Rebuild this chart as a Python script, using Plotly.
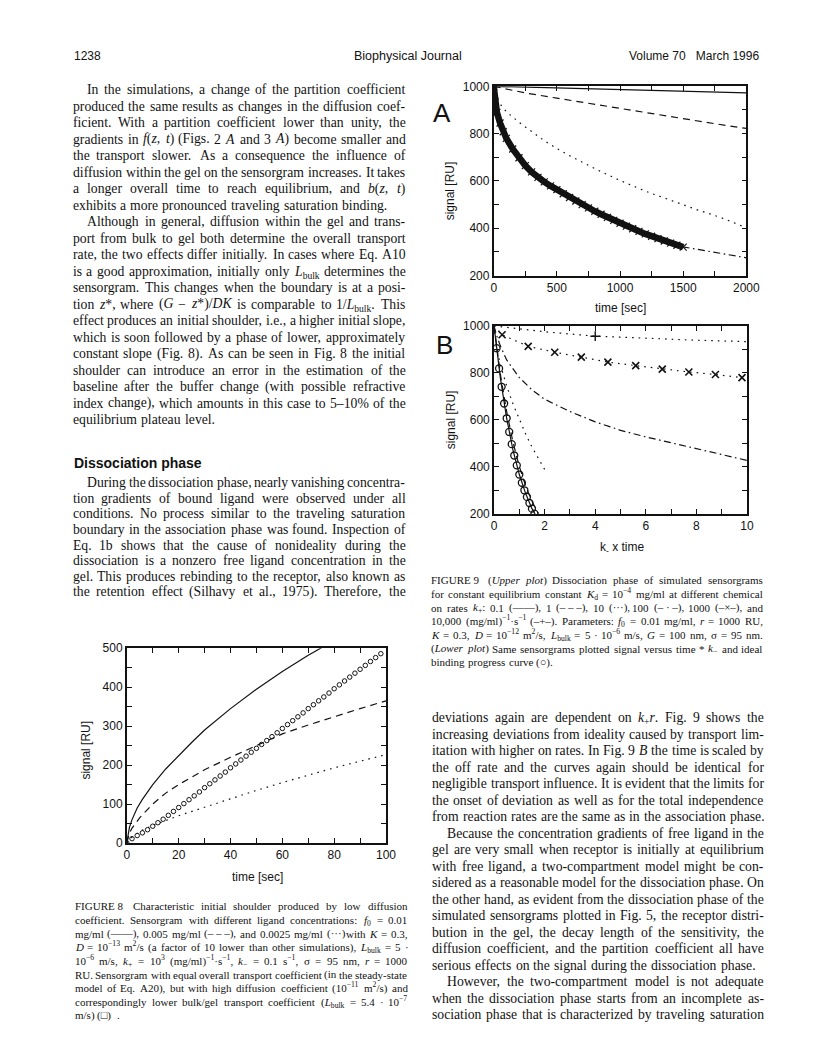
import re
import plotly.graph_objects as go

PAGE_W, PAGE_H = 816, 1064
INK = '#121212'
SANS = 'Liberation Sans, Arial, sans-serif'
SERIF = 'Liberation Serif, Times New Roman, serif'

# ---------------- data: Fig. 9A (signal vs time, dissociation) ----------------
a_xticks = [0, 500, 1000, 1500, 2000]
a_xminor = [250, 750, 1250, 1750]
sig_ticks = [200, 400, 600, 800, 1000]
sig_minor = [300, 500, 700, 900]

a_t_solid = [0, 500, 1000, 1500, 2000]
a_solid = [1000, 993, 986, 979, 972]
a_t_dash = [0, 100, 250, 500, 750, 1000, 1250, 1500, 1750, 2000]
a_dash = [1000, 988, 972, 950, 928, 906, 884, 863, 842, 822]
a_t_dot = [0, 25, 50, 100, 200, 300, 400, 500, 600, 800, 1000, 1200, 1400, 1600, 1800, 2000]
a_dot = [1000, 950, 925, 893, 848, 808, 770, 737, 707, 652, 602, 557, 517, 480, 445, 402]
a_t_dashdot = [0, 25, 50, 100, 200, 300, 500, 750, 1000, 1250, 1500, 1600, 1700, 1800, 1900, 2000]
a_dashdot = [1000, 893, 846, 781, 699, 639, 562, 487, 422, 366, 321, 312, 303, 293, 284, 275]
a_t_cross = [0, 10, 25, 50, 75, 100, 150, 200, 250, 300, 350, 400, 450, 500, 550, 600, 650,
             700, 750, 800, 850, 900, 950, 1000, 1050, 1100, 1150, 1200, 1250, 1300, 1350,
             1400, 1450, 1500]
a_cross = [1000, 935, 890, 845, 808, 780, 735, 698, 665, 638, 615, 596, 579, 563, 546, 530,
           515, 500, 486, 472, 459, 446, 433, 421, 409, 398, 387, 376, 366, 356, 346, 337,
           328, 320]

# ---------------- data: Fig. 9B (signal vs k- x time) ----------------
b_xticks = [0, 2, 4, 6, 8, 10]
b_xminor = [1, 3, 5, 7, 9]

b_x_ideal = [0.1, 0.2, 0.3, 0.4, 0.5, 0.6, 0.7, 0.8, 0.9, 1.0, 1.1, 1.2, 1.3, 1.4, 1.5, 1.6]
b_ideal = [905, 819, 741, 670, 607, 549, 497, 449, 407, 368, 333, 301, 273, 247, 223, 202]
b_x_solid = [0, 0.25, 0.5, 0.75, 1.0, 1.25, 1.5, 1.62]
b_solid = [1000, 779, 607, 472, 368, 287, 223, 200]
b_x_dash = [0, 0.25, 0.5, 0.75, 1.0, 1.25, 1.5, 1.75]
b_dash = [1000, 795, 635, 505, 402, 320, 254, 202]
b_x_dot = [0, 0.1, 0.25, 0.5, 0.75, 1.0, 1.25, 1.5, 1.75, 2.0]
b_dot = [1000, 905, 835, 745, 668, 600, 540, 485, 435, 390]
b_x_dashdot = [0, 0.1, 0.25, 0.5, 1, 1.5, 2, 3, 4, 5, 6, 7, 8, 9, 10]
b_dashdot = [1000, 960, 915, 855, 780, 728, 688, 636, 592, 556, 528, 503, 481, 455, 428]
b_x_cross = [0, 0.32, 1.35, 2.4, 3.45, 4.5, 5.6, 6.65, 7.7, 8.75, 9.8]
b_cross = [1000, 962, 913, 888, 867, 846, 831, 816, 804, 793, 780]
b_x_plus = [0, 2, 4, 6, 8, 10]
b_plus = [1000, 975, 956, 946, 939, 933]
b_x_plus_mark = [4.0]
b_plus_mark = [956]

# ---------------- data: Fig. 8 (initial shoulder) ----------------
f8_xticks = [0, 20, 40, 60, 80, 100]
f8_xminor = [10, 30, 50, 70, 90]
f8_yticks = [0, 100, 200, 300, 400, 500]
f8_yminor = [50, 150, 250, 350, 450]

f8_t_solid = [0, 1, 2, 4, 6, 10, 15, 20, 25, 30, 40, 50, 60, 70, 75, 80]
f8_solid = [0, 40, 60, 90, 112, 150, 190, 225, 258, 290, 345, 395, 440, 482, 500, 520]
f8_t_dash = [0, 1, 2, 5, 10, 15, 20, 30, 40, 50, 60, 70, 80, 90, 100]
f8_dash = [0, 25, 38, 65, 100, 128, 150, 188, 220, 250, 280, 303, 325, 345, 365]
f8_t_dot = [0, 2, 5, 10, 20, 30, 40, 50, 60, 70, 80, 90, 100]
f8_dot = [0, 15, 30, 45, 70, 92, 113, 135, 155, 175, 193, 210, 227]
f8_t_circ = [0, 2, 4, 6, 8, 10, 12, 14, 16, 18, 20, 22, 24, 26, 28, 30, 32, 34, 36, 38, 40,
             42, 44, 46, 48, 50, 52, 54, 56, 58, 60, 62, 64, 66, 68, 70, 72, 74, 76, 78, 80,
             82, 84, 86, 88, 90, 92, 94, 96, 98]
f8_circ = [0, 11, 19, 26, 34, 43, 52, 61, 71, 81, 91, 101, 111, 121, 131, 142, 152, 162, 172,
           182, 193, 203, 213, 223, 233, 243, 253, 263, 273, 283, 294, 304, 314, 324, 334, 345,
           355, 365, 375, 385, 396, 406, 416, 426, 436, 446, 456, 466, 476, 486]

# ---------------- page text ----------------
left_p1 = [
    "In the simulations, a change of the partition coefficient",
    "produced the same results as changes in the diffusion coef-",
    "ficient. With a partition coefficient lower than unity, the",
    "gradients in <i>f</i>(<i>z,</i> <i>t</i>) (Figs. 2 <i>A</i> and 3 <i>A</i>) become smaller and",
    "the transport slower. As a consequence the influence of",
    "diffusion within the gel on the sensorgram increases. It takes",
    "a longer overall time to reach equilibrium, and <i>b</i>(<i>z,</i> <i>t</i>)",
    "exhibits a more pronounced traveling saturation binding.",
    "Although in general, diffusion within the gel and trans-",
    "port from bulk to gel both determine the overall transport",
    "rate, the two effects differ initially. In cases where Eq. A10",
    "is a good approximation, initially only <i>L</i><sub>bulk</sub> determines the",
    "sensorgram. This changes when the boundary is at a posi-",
    "tion <i>z</i>*, where (<i>G</i> − <i>z</i>*)/<i>DK</i> is comparable to 1/<i>L</i><sub>bulk</sub>. This",
    "effect produces an initial shoulder, i.e., a higher initial slope,",
    "which is soon followed by a phase of lower, approximately",
    "constant slope (Fig. 8). As can be seen in Fig. 8 the initial",
    "shoulder can introduce an error in the estimation of the",
    "baseline after the buffer change (with possible refractive",
    "index change), which amounts in this case to 5–10% of the",
    "equilibrium plateau level.",
]
left_p1_indent = {0, 8}
left_p1_last = {7, 20}

left_p2 = [
    "During the dissociation phase, nearly vanishing concentra-",
    "tion gradients of bound ligand were observed under all",
    "conditions. No process similar to the traveling saturation",
    "boundary in the association phase was found. Inspection of",
    "Eq. 1b shows that the cause of nonideality during the",
    "dissociation is a nonzero free ligand concentration in the",
    "gel. This produces rebinding to the receptor, also known as",
    "the retention effect (Silhavy et al., 1975). Therefore, the",
]

cap8 = [
    "FIGURE\u00a08\u00a0 Characteristic initial shoulder produced by low diffusion",
    "coefficient. Sensorgram with different ligand concentrations: <i>f</i><sub>0</sub> = 0.01",
    "mg/ml (——), 0.005 mg/ml (–\u00a0–\u00a0–), and 0.0025 mg/ml (···) with <i>K</i> = 0.3,",
    "<i>D</i> = 10<sup>−13</sup> m<sup>2</sup>/s (a factor of 10 lower than other simulations), <i>L</i><sub>bulk</sub> = 5 ·",
    "10<sup>−6</sup> m/s, <i>k</i><sub>+</sub> = 10<sup>3</sup> (mg/ml)<sup>−1</sup>·s<sup>−1</sup>, <i>k</i><sub>−</sub> = 0.1 s<sup>−1</sup>, σ = 95 nm, <i>r</i> = 1000",
    "RU. Sensorgram with equal overall transport coefficient (in the steady-state",
    "model of Eq. A20), but with high diffusion coefficient (10<sup>−11</sup> m<sup>2</sup>/s) and",
    "correspondingly lower bulk/gel transport coefficient (<i>L</i><sub>bulk</sub> = 5.4 · 10<sup>−7</sup>",
    "m/s) (□) .",
]

cap9 = [
    "FIGURE\u00a09\u00a0 (<i>Upper</i> <i>plot</i>) Dissociation phase of simulated sensorgrams",
    "for constant equilibrium constant <i>K</i><sub>d</sub> = 10<sup>−4</sup> mg/ml at different chemical",
    "on rates <i>k</i><sub>+</sub>: 0.1 (——), 1 (–\u00a0–\u00a0–), 10 (···), 100 (–\u00a0·\u00a0–), 1000 (–×–), and",
    "10,000 (mg/ml)<sup>−1</sup>·s<sup>−1</sup> (–+–). Parameters: <i>f</i><sub>0</sub> = 0.01 mg/ml, <i>r</i> = 1000 RU,",
    "<i>K</i> = 0.3, <i>D</i> = 10<sup>−12</sup> m<sup>2</sup>/s, <i>L</i><sub>bulk</sub> = 5 · 10<sup>−6</sup> m/s, <i>G</i> = 100 nm, σ = 95 nm.",
    "(<i>Lower</i> <i>plot</i>) Same sensorgrams plotted signal versus time * <i>k</i><sub>−</sub> and ideal",
    "binding progress curve (○).",
]

right_body = [
    "deviations again are dependent on <i>k</i><sub>+</sub><i>r</i>. Fig. 9 shows the",
    "increasing deviations from ideality caused by transport lim-",
    "itation with higher on rates. In Fig. 9 <i>B</i> the time is scaled by",
    "the off rate and the curves again should be identical for",
    "negligible transport influence. It is evident that the limits for",
    "the onset of deviation as well as for the total independence",
    "from reaction rates are the same as in the association phase.",
    "Because the concentration gradients of free ligand in the",
    "gel are very small when receptor is initially at equilibrium",
    "with free ligand, a two-compartment model might be con-",
    "sidered as a reasonable model for the dissociation phase. On",
    "the other hand, as evident from the dissociation phase of the",
    "simulated sensorgrams plotted in Fig. 5, the receptor distri-",
    "bution in the gel, the decay length of the sensitivity, the",
    "diffusion coefficient, and the partition coefficient all have",
    "serious effects on the signal during the dissociation phase.",
    "However, the two-compartment model is not adequate",
    "when the dissociation phase starts from an incomplete as-",
    "sociation phase that is characterized by traveling saturation",
]
right_indent = {7, 16}
right_last = {6, 15}

# Times-Roman advance widths (per 1000 em), Liberation Serif is metric compatible
TW = {' ': 250, '\u00a0': 250, '!': 333, '"': 408, '%': 833, '&': 778, "'": 333, '(': 333, ')': 333,
      '*': 500, '+': 564, ',': 250, '-': 333, '.': 250, '/': 278, ':': 278, ';': 278, '=': 564,
      '?': 444, '[': 333, ']': 333, '–': 500, '—': 1000, '−': 564, '·': 250, '×': 564,
      'σ': 550, '○': 800, '□': 800,
      'A': 722, 'B': 667, 'C': 667, 'D': 722, 'E': 611, 'F': 556, 'G': 722, 'H': 722, 'I': 333,
      'J': 389, 'K': 722, 'L': 611, 'M': 889, 'N': 722, 'O': 722, 'P': 556, 'Q': 722, 'R': 667,
      'S': 556, 'T': 611, 'U': 722, 'V': 722, 'W': 944, 'X': 722, 'Y': 722, 'Z': 611,
      'a': 444, 'b': 500, 'c': 444, 'd': 500, 'e': 444, 'f': 333, 'g': 500, 'h': 500, 'i': 278,
      'j': 278, 'k': 500, 'l': 278, 'm': 778, 'n': 500, 'o': 500, 'p': 500, 'q': 500, 'r': 333,
      's': 389, 't': 278, 'u': 500, 'v': 500, 'w': 722, 'x': 500, 'y': 500, 'z': 444}
FUDGE = 1.03

annotations = []


def px(x):
    return x / PAGE_W


def py(y):
    return 1 - y / PAGE_H


def word_width(s, size):
    total, scale = 0.0, 1.0
    for part in re.split(r'(<[^>]+>)', s):
        if part.startswith('<'):
            if re.match(r'</?su[bp]>', part):
                scale = 1.0 if part.startswith('</') else 0.7
            continue
        for ch in part:
            total += TW.get(ch, 500) * scale
    return total * size / 1000 * FUDGE


def label(text, x, y, size=12, family=SANS, xanchor='center', angle=0, bold=False):
    if bold:
        text = '<b>' + text + '</b>'
    annotations.append(dict(x=px(x), y=py(y), xref='paper', yref='paper', text=text,
                            showarrow=False, xanchor=xanchor, yanchor='middle', textangle=angle,
                            font=dict(family=family, size=size, color=INK)))


def text_line(text, x0, x1, y, size, justify=True, indent=0):
    words = text.split(' ')
    widths = [word_width(w, size) for w in words]
    start = x0 + indent
    if justify and len(words) > 1:
        gap = (x1 - start - sum(widths)) / (len(words) - 1)
    else:
        gap = 0.28 * size
    x = start
    for w, wd in zip(words, widths):
        shift = 0
        if '<sup>' in w:
            shift += 0.075 * size
        if '<sub>' in w:
            shift -= 0.07 * size
        annotations.append(dict(x=px(x - 1), y=py(y), xref='paper', yref='paper', text=w,
                                showarrow=False, xanchor='left', yanchor='middle', yshift=shift,
                                font=dict(family=SERIF, size=size, color=INK)))
        x += wd + gap


def paragraph(lines, x0, x1, y0, step, size, indent_set=(), last_set=(), indent=15):
    for i, ln in enumerate(lines):
        text_line(ln, x0, x1, y0 + i * step, size, justify=i not in last_set,
                  indent=indent if i in indent_set else 0)


def axis(domain, ticks, minor, rng, anchor):
    return dict(domain=domain, range=rng, tickmode='array', tickvals=ticks,
                showline=True, linecolor=INK, linewidth=1.7, mirror='ticks', ticks='inside',
                ticklen=5, tickwidth=1.4, tickcolor=INK, showgrid=False, zeroline=False,
                minor=dict(tickmode='array', tickvals=minor, ticks='inside', ticklen=5,
                           tickwidth=1.4, tickcolor=INK, showgrid=False),
                anchor=anchor, tickfont=dict(family=SANS, size=12, color=INK))


def line(x, y, xa, ya, dash='solid', width=1.2):
    return go.Scatter(x=x, y=y, xaxis=xa, yaxis=ya, mode='lines',
                      line=dict(color=INK, width=width, dash=dash), hoverinfo='skip')


DASH = '7px,5px'
DOT = '1.6px,5px'
DASHDOT = '7px,3.5px,1.6px,3.5px'

fig = go.Figure()

# Fig. 9A
fig.add_trace(line(a_t_solid, a_solid, 'x', 'y'))
fig.add_trace(line(a_t_dash, a_dash, 'x', 'y', DASH))
fig.add_trace(line(a_t_dot, a_dot, 'x', 'y', DOT))
fig.add_trace(line(a_t_dashdot, a_dashdot, 'x', 'y', DASHDOT))
fig.add_trace(go.Scatter(x=a_t_cross, y=a_cross, xaxis='x', yaxis='y', mode='lines+markers',
                         line=dict(color=INK, width=6.5),
                         marker=dict(symbol='x-thin', size=7, line=dict(color=INK, width=1.2)),
                         hoverinfo='skip'))

# Fig. 9B
fig.add_trace(line(b_x_solid, b_solid, 'x2', 'y2'))
fig.add_trace(line(b_x_dash, b_dash, 'x2', 'y2', DASH))
fig.add_trace(line(b_x_dot, b_dot, 'x2', 'y2', DOT))
fig.add_trace(line(b_x_dashdot, b_dashdot, 'x2', 'y2', DASHDOT))
fig.add_trace(line(b_x_cross, b_cross, 'x2', 'y2', DOT))
fig.add_trace(go.Scatter(x=b_x_cross[1:], y=b_cross[1:], xaxis='x2', yaxis='y2', mode='markers',
                         marker=dict(symbol='x-thin', size=7, line=dict(color=INK, width=1.6)),
                         hoverinfo='skip'))
fig.add_trace(line(b_x_plus, b_plus, 'x2', 'y2', DOT))
fig.add_trace(go.Scatter(x=b_x_plus_mark, y=b_plus_mark, xaxis='x2', yaxis='y2', mode='markers',
                         marker=dict(symbol='cross-thin', size=7, line=dict(color=INK, width=1.4)),
                         hoverinfo='skip'))
fig.add_trace(go.Scatter(x=b_x_ideal, y=b_ideal, xaxis='x2', yaxis='y2', mode='markers',
                         marker=dict(symbol='circle-open', size=7, color=INK,
                                     line=dict(color=INK, width=1.3)),
                         hoverinfo='skip'))

# Fig. 8
fig.add_trace(line(f8_t_solid, f8_solid, 'x3', 'y3'))
fig.add_trace(line(f8_t_dash, f8_dash, 'x3', 'y3', DASH))
fig.add_trace(line(f8_t_dot, f8_dot, 'x3', 'y3', DOT))
fig.add_trace(go.Scatter(x=f8_t_circ, y=f8_circ, xaxis='x3', yaxis='y3', mode='markers',
                         marker=dict(symbol='circle-open', size=4.5, color=INK,
                                     line=dict(color=INK, width=1)),
                         hoverinfo='skip'))

# axis titles and panel letters
label('A', 440, 99, size=26)
label('B', 443, 334, size=26)
label('signal [RU]', 448, 178, angle=-90)
label('time [sec]', 622, 297)
label('signal [RU]', 449, 410, angle=-90)
label('k<sub>-</sub> x time', 624, 540)
label('signal [RU]', 77, 745, angle=-90)
label('time [sec]', 252, 873)

# running head
label('1238', 62, 42, xanchor='left')
label('Biophysical Journal', 463, 42, xanchor='right', size=12.5)
label('Volume 70\u00a0\u00a0\u00a0March 1996', 766, 42, xanchor='right')

# body text and captions
paragraph(left_p1, 62, 402, 75.7, 16.72, 13.7, left_p1_indent, left_p1_last)
label('Dissociation phase', 62, 454, size=14, xanchor='left', bold=True)
paragraph(left_p2, 62, 402, 474, 15.8, 13.7, {0}, ())
paragraph(cap8, 64, 404, 903.3, 13.8, 11, (), {8}, 0)
paragraph(cap9, 428, 767, 572.7, 13.85, 11, (), {6}, 0)
paragraph(right_body, 429, 768, 712.3, 16.7, 13.7, right_indent, right_last)

fig.update_layout(
    width=PAGE_W, height=PAGE_H, autosize=False,
    margin=dict(l=0, r=0, t=0, b=0),
    paper_bgcolor='white', plot_bgcolor='white', showlegend=False,
    xaxis=axis([px(493), px(751)], a_xticks, a_xminor, [0, 2000], 'y'),
    yaxis=axis([py(264), py(72.3)], sig_ticks, sig_minor, [200, 1000], 'x'),
    xaxis2=axis([px(493.3), px(751.7)], b_xticks, b_xminor, [0, 10], 'y2'),
    yaxis2=axis([py(505.7), py(315)], sig_ticks, sig_minor, [200, 1000], 'x2'),
    xaxis3=axis([px(118.3), px(383)], f8_xticks, f8_xminor, [0, 100], 'y3'),
    yaxis3=axis([py(839), py(641.7)], f8_yticks, f8_yminor, [0, 500], 'x3'),
    annotations=annotations,
)

fig.write_html('out.html')
